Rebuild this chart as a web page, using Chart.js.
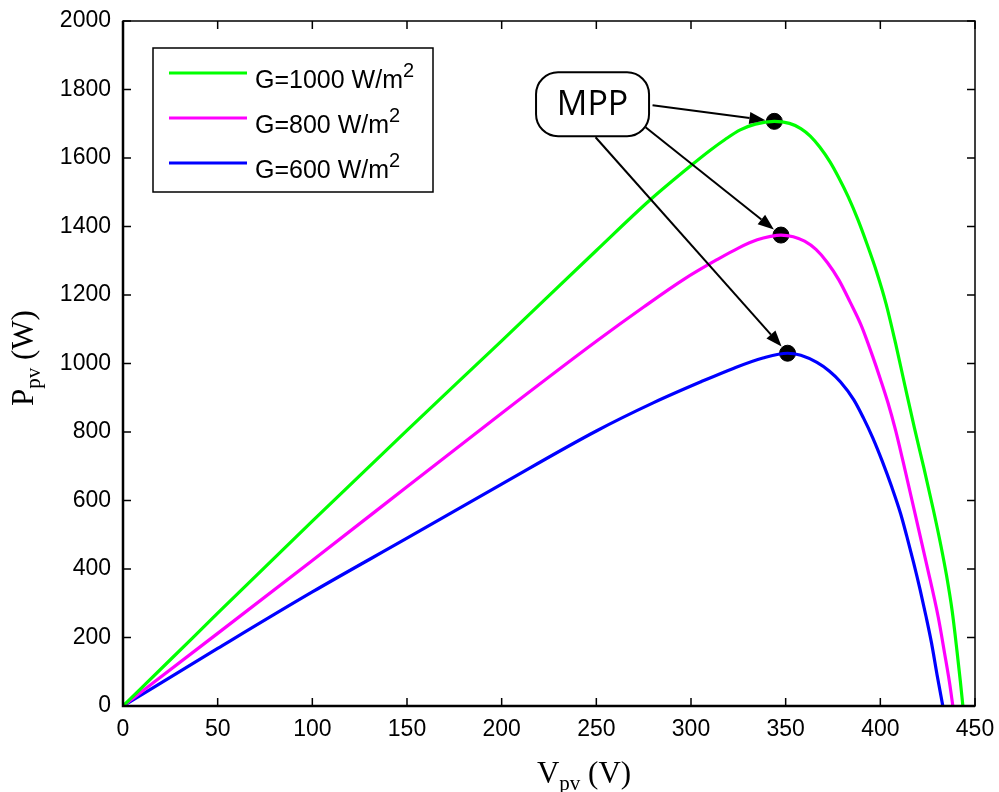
<!DOCTYPE html>
<html>
<head>
<meta charset="utf-8">
<script src="https://cdn.jsdelivr.net/npm/chart.js@4.4.1/dist/chart.umd.min.js"></script>
<style>
  html, body { margin: 0; padding: 0; background: #fff; }
</style>
</head>
<body>
<canvas id="pvChart" width="999" height="792"></canvas>
<script>
// P-V curves, values
const v1000 = [0, 25, 50, 100, 150, 200, 250, 278.5, 300, 310, 318, 326, 334, 344, 352, 358, 363, 368, 373.5, 378, 383, 388, 393, 398, 403, 408, 413, 418, 423, 428, 432, 435, 438, 440.5, 442.3, 443.6];
const p1000 = [0, 135, 271, 540, 805, 1066, 1330, 1478, 1578, 1622, 1654, 1682, 1699, 1707, 1701, 1686, 1664, 1632, 1588, 1543, 1487, 1422, 1348, 1268, 1175, 1060, 935, 812, 695, 573, 468, 380, 275, 160, 70, 0];

const v800 = [0, 50, 100, 150, 200, 250, 275, 296, 313.7, 325, 335, 342, 347.5, 354, 360, 366, 372, 378, 384, 390, 396, 400, 404, 408, 412, 418.4, 424.6, 430.6, 434, 436.5, 438.3];
const p800 = [0, 212, 425, 640, 855, 1065, 1165, 1245, 1303, 1337, 1361, 1371, 1375, 1370, 1357, 1333, 1295, 1245, 1180, 1110, 1020, 955, 886, 806, 714, 560, 410, 259, 152, 70, 0];

const v600 = [0, 50, 100, 150, 200, 250, 280, 305, 322, 338, 351, 358, 366.5, 373, 379, 386, 391, 396, 401, 406, 410.8, 414, 417.6, 421, 424, 427, 430, 433];
const p600 = [0, 168, 333, 490, 648, 803, 885, 946, 985, 1016, 1030, 1024, 1003, 978, 946, 894, 842, 783, 715, 640, 560, 495, 418, 340, 265, 185, 90, 0];

// maximum power points
const mppV = [344, 347.5, 351];
const mppP = [1707, 1375, 1030];

const seriesNames = ['G=1000', 'G=800', 'G=600'];
const seriesColors = ['#00ff00', '#ff00ff', '#0000ff'];

const xTickVals = [0, 50, 100, 150, 200, 250, 300, 350, 400, 450];
const yTickVals = [0, 200, 400, 600, 800, 1000, 1200, 1400, 1600, 1800, 2000];

const toPts = (vs, ps) => vs.map((v, i) => ({x: v, y: ps[i]}));

function arrow(ctx, x0, y0, x1, y1) {
    const ang = Math.atan2(y1 - y0, x1 - x0);
    const len = 16, half = 6;
    const bx = x1 - len * Math.cos(ang), by = y1 - len * Math.sin(ang);
    ctx.beginPath();
    ctx.moveTo(x0, y0);
    ctx.lineTo(bx, by);
    ctx.stroke();
    ctx.beginPath();
    ctx.moveTo(x1, y1);
    ctx.lineTo(bx + half * Math.sin(ang), by - half * Math.cos(ang));
    ctx.lineTo(bx - half * Math.sin(ang), by + half * Math.cos(ang));
    ctx.closePath();
    ctx.fill();
}

// text with sub/superscript pieces: [text, size, shift]
function richText(ctx, parts, x, y, family) {
    parts.forEach(p => {
        ctx.font = p[1] + 'px ' + family;
        ctx.fillText(p[0], x, y + p[2]);
        x += ctx.measureText(p[0]).width;
    });
}
function richWidth(ctx, parts, family) {
    let w = 0;
    parts.forEach(p => { ctx.font = p[1] + 'px ' + family; w += ctx.measureText(p[0]).width; });
    return w;
}

const decor = {
    id: 'decor',
    afterDraw(chart) {
        const {ctx, chartArea: a, scales: {x, y}} = chart;
        ctx.save();
        ctx.strokeStyle = '#000';
        ctx.fillStyle = '#000';

        // axes box
        ctx.lineWidth = 1.5;
        ctx.strokeRect(a.left, a.top, a.right - a.left, a.bottom - a.top);
        ctx.lineWidth = 2.5;
        ctx.beginPath();
        ctx.moveTo(a.left, a.top);
        ctx.lineTo(a.left, a.bottom);
        ctx.lineTo(a.right, a.bottom);
        ctx.stroke();

        // inward ticks on all sides
        ctx.lineWidth = 1.5;
        ctx.beginPath();
        xTickVals.forEach(t => {
            const px = x.getPixelForValue(t);
            ctx.moveTo(px, a.bottom); ctx.lineTo(px, a.bottom - 8);
            ctx.moveTo(px, a.top); ctx.lineTo(px, a.top + 8);
        });
        yTickVals.forEach(t => {
            const py = y.getPixelForValue(t);
            ctx.moveTo(a.left, py); ctx.lineTo(a.left + 8, py);
            ctx.moveTo(a.right, py); ctx.lineTo(a.right - 8, py);
        });
        ctx.stroke();

        // legend
        const lx = a.left + 30, ly = a.top + 27;
        ctx.fillStyle = '#fff';
        ctx.fillRect(lx, ly, 280, 144);
        ctx.lineWidth = 1.5;
        ctx.strokeRect(lx, ly, 280, 144);
        const sans = '"Liberation Sans", Arial, sans-serif';
        ctx.textBaseline = 'alphabetic';
        ctx.textAlign = 'left';
        seriesNames.forEach((n, i) => {
            const yy = ly + 25 + i * 45;
            ctx.strokeStyle = seriesColors[i];
            ctx.lineWidth = 3;
            ctx.beginPath();
            ctx.moveTo(lx + 16, yy);
            ctx.lineTo(lx + 94, yy);
            ctx.stroke();
            ctx.fillStyle = '#000';
            richText(ctx, [[n + ' W/m', 25, 0], ['2', 20, -11]], lx + 102, yy + 15, sans);
        });

        // MPP label and arrows
        const cx = x.getPixelForValue(248), cy = y.getPixelForValue(1757);
        const bw = 113, bh = 64;
        ctx.strokeStyle = '#000';
        ctx.fillStyle = '#fff';
        ctx.lineWidth = 2;
        ctx.beginPath();
        ctx.roundRect(cx - bw / 2, cy - bh / 2, bw, bh, 22);
        ctx.fill();
        ctx.stroke();
        ctx.fillStyle = '#000';
        ctx.font = '34px "Open Sans", sans-serif';
        ctx.textAlign = 'center';
        ctx.textBaseline = 'middle';
        ctx.fillText('MPP', cx, cy + 1);

        const starts = [[60, 1], [53, 23], [3, 33]];
        mppV.forEach((v, i) => {
            const sx = cx + starts[i][0], sy = cy + starts[i][1];
            const dx = x.getPixelForValue(v), dy = y.getPixelForValue(mppP[i]);
            const ang = Math.atan2(dy - sy, dx - sx);
            arrow(ctx, sx, sy, dx - 9 * Math.cos(ang), dy - 9 * Math.sin(ang));
        });

        // axis titles
        const serif = '"Liberation Serif", "Times New Roman", serif';
        ctx.textAlign = 'left';
        ctx.textBaseline = 'alphabetic';
        const xt = [['V', 31, 0], ['pv', 21, 7], [' (V)', 31, 0]];
        const xw = richWidth(ctx, xt, serif);
        richText(ctx, xt, 584 - xw / 2, 783, serif);

        const yt = [['P', 31, 0], ['pv', 21, 7], [' (W)', 31, 0]];
        const yw = richWidth(ctx, yt, serif);
        ctx.translate(33, 358);
        ctx.rotate(-Math.PI / 2);
        richText(ctx, yt, -yw / 2, 0, serif);

        ctx.restore();
    }
};

const tickFont = {family: '"Liberation Sans", Arial, sans-serif', size: 23};

new Chart(document.getElementById('pvChart'), {
    type: 'line',
    data: {
        datasets: [
            {label: seriesNames[0] + ' W/m²', data: toPts(v1000, p1000), borderColor: seriesColors[0]},
            {label: seriesNames[1] + ' W/m²', data: toPts(v800, p800), borderColor: seriesColors[1]},
            {label: seriesNames[2] + ' W/m²', data: toPts(v600, p600), borderColor: seriesColors[2]},
            {
                label: 'MPP',
                type: 'scatter',
                data: toPts(mppV, mppP),
                pointRadius: 8,
                pointBackgroundColor: '#000',
                pointBorderColor: '#000',
                showLine: false
            }
        ]
    },
    options: {
        responsive: false,
        animation: false,
        parsing: false,
        elements: {
            line: {borderWidth: 3.2, cubicInterpolationMode: 'monotone', fill: false},
            point: {radius: 0}
        },
        layout: {padding: {top: 21, right: 24, left: 0, bottom: 0}},
        plugins: {legend: {display: false}, tooltip: {enabled: false}},
        scales: {
            x: {
                type: 'linear',
                min: 0, max: 450,
                grid: {display: false, drawTicks: false},
                border: {display: false},
                afterBuildTicks: s => { s.ticks = xTickVals.map(v => ({value: v})); },
                afterFit: s => { s.height = 86; s.paddingLeft = 0; s.paddingRight = 0; },
                ticks: {color: '#000', font: tickFont, padding: 10, maxRotation: 0, autoSkip: false,
                        callback: v => String(v)}
            },
            y: {
                type: 'linear',
                min: 0, max: 2000,
                grid: {display: false, drawTicks: false},
                border: {display: false},
                afterBuildTicks: s => { s.ticks = yTickVals.map(v => ({value: v})); },
                afterFit: s => { s.width = 123; s.paddingTop = 0; s.paddingBottom = 0; },
                ticks: {color: '#000', font: tickFont, padding: 12, autoSkip: false,
                        callback: v => String(v)}
            }
        }
    },
    plugins: [decor]
});
</script>
</body>
</html>
